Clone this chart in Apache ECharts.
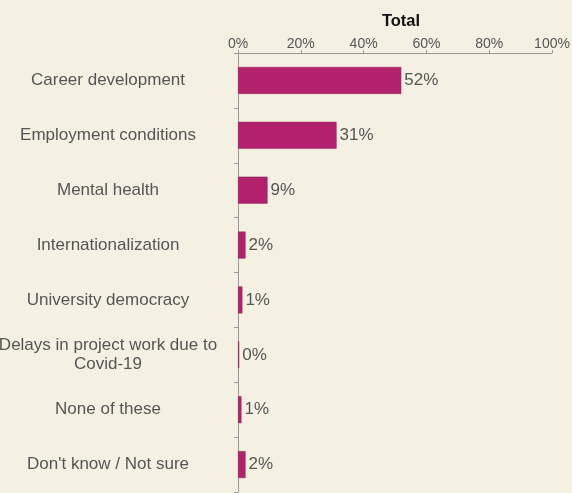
<!DOCTYPE html>
<html><head><meta charset="utf-8">
<script src="https://cdn.jsdelivr.net/npm/echarts@6/dist/echarts.min.js"></script>
<style>html,body{margin:0;padding:0;background:#f5f1e2;}#c{width:572px;height:493px;}</style>
</head><body><div id="c"></div>
<script>
const categories = ["Career development","Employment conditions","Mental health","Internationalization","University democracy","Delays in project work due to\nCovid-19","None of these","Don't know / Not sure"];
const values = [52, 31.4, 9.4, 2.4, 1.4, 0.4, 1.1, 2.4];
const xTicks = [0, 20, 40, 60, 80, 100];

const chart = echarts.init(document.getElementById('c'), null, {renderer:'canvas'});
chart.setOption({
  backgroundColor: '#f5f1e2',
  animation: false,
  title: {text:'Total', left: 396, top: 8, textAlign:'center',
    textStyle:{fontFamily:'Liberation Sans, Arial', fontWeight:'bold', fontSize:16.5, color:'#111'}},
  grid: {left: 238, right: 20, top: 53, bottom: 1, containLabel:false, outerBoundsMode:'none'},
  xAxis: {type:'value', position:'top', min:xTicks[0], max:xTicks[xTicks.length-1], interval:20,
    axisLine:{show:true, lineStyle:{color:'#999', width:1}},
    axisTick:{show:true, length:3, lineStyle:{color:'#999'}},
    splitLine:{show:false},
    axisLabel:{formatter: v => v + '%', color:'#555', fontSize:14, fontFamily:'Liberation Sans, Arial', margin:2}
  },
  yAxis: {type:'category', inverse:true, data: categories,
    axisLine:{show:true, lineStyle:{color:'#999'}},
    axisTick:{show:true, length:4, lineStyle:{color:'#999'}},
    axisLabel:{color:'#555', fontSize:17, fontFamily:'Liberation Sans, Arial', align:'center', margin:130, lineHeight:19}
  },
  series: [{type:'bar', data: values, barWidth: 27,
    itemStyle:{color:'#b3206c', borderColor:'#8e2a5c', borderWidth:0.5},
    label:{show:true, position:'right', distance:3, formatter: p => Math.round(p.value) + '%',
      color:'#555', fontSize:17, fontFamily:'Liberation Sans, Arial'}
  }]
});
</script></body></html>
